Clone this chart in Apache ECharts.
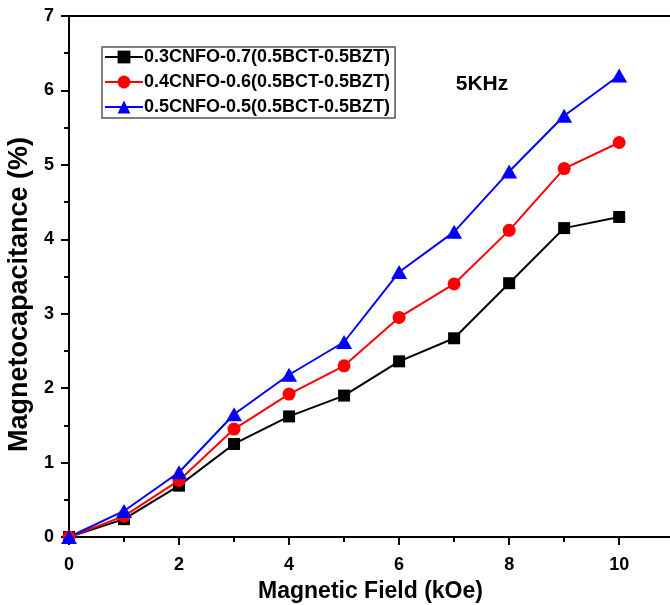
<!DOCTYPE html>
<html><head><meta charset="utf-8">
<script src="https://cdn.jsdelivr.net/npm/echarts@6/dist/echarts.min.js"></script>
<style>html,body{margin:0;padding:0;background:#fff}#c{width:670px;height:605px}</style>
</head><body><div id="c"></div>
<script>
var fieldKOe = [0,1,2,3,4,5,6,7,8,9,10];
var seriesNames = ['0.3CNFO-0.7(0.5BCT-0.5BZT)','0.4CNFO-0.6(0.5BCT-0.5BZT)','0.5CNFO-0.5(0.5BCT-0.5BZT)'];
var mc03 = [0,0.24,0.69,1.25,1.62,1.90,2.36,2.67,3.41,4.15,4.30];
var mc04 = [0,0.28,0.76,1.45,1.92,2.30,2.95,3.40,4.12,4.95,5.30];
var mc05 = [0,0.35,0.87,1.65,2.18,2.62,3.56,4.10,4.91,5.66,6.20];
var yTicks = [0,1,2,3,4,5,6,7];
var xTicks = [0,2,4,6,8,10];

function pairs(v){return fieldKOe.map(function(x,i){return [x,v[i]];});}
var F = 'Liberation Sans, Arial, sans-serif';
var chart = echarts.init(document.getElementById('c'));
function mk(name, data, color, symbol, size){
  return {name:name,type:'line',data:pairs(data),symbol:symbol,symbolSize:size,
    lineStyle:{color:color,width:2},itemStyle:{color:color},color:color,animation:false};
}
chart.setOption({
  animation:false,
  grid:{left:69,top:16,right:-2,bottom:68,outerBoundsMode:'none',containLabel:false,
    show:true,borderColor:'#000',borderWidth:2,backgroundColor:'transparent'},
  xAxis:{type:'value',min:0,max:10.96,interval:2,
    name:'Magnetic Field (kOe)',nameLocation:'middle',nameGap:43,
    nameTextStyle:{fontFamily:F,fontWeight:'bold',fontSize:23,color:'#000'},
    axisLine:{show:true,lineStyle:{color:'#000',width:2}},
    axisTick:{show:true,length:8,lineStyle:{color:'#000',width:2}},
    minorTick:{show:true,splitNumber:2,length:5,lineStyle:{color:'#000',width:2}},
    splitLine:{show:false},
    axisLabel:{fontFamily:F,fontWeight:'bold',fontSize:18,color:'#000',margin:19,
      showMaxLabel:false,
      formatter:function(v){return xTicks.indexOf(v)>=0?String(v):'';}}
  },
  yAxis:{type:'value',min:0,max:7,interval:1,
    name:'Magnetocapacitance (%)',nameLocation:'middle',nameGap:31,
    nameTextStyle:{fontFamily:F,fontWeight:'bold',fontSize:27,color:'#000',padding:[0,36,0,0]},
    axisLine:{show:true,lineStyle:{color:'#000',width:2}},
    axisTick:{show:true,length:8,lineStyle:{color:'#000',width:2}},
    minorTick:{show:true,splitNumber:2,length:5,lineStyle:{color:'#000',width:2}},
    splitLine:{show:false},
    axisLabel:{fontFamily:F,fontWeight:'bold',fontSize:18,color:'#000',margin:15,
      formatter:function(v){return yTicks.indexOf(v)>=0?String(v):'';}}
  },
  legend:{orient:'vertical',left:102,top:47,itemWidth:38,itemHeight:16,itemGap:7,
    padding:[1,5,2,2],borderColor:'#555',borderWidth:1.5,
    textStyle:{fontFamily:F,fontWeight:'bold',fontSize:18,color:'#000',padding:[0,0,0,-4]},
    data:seriesNames},
  graphic:[{type:'text',x:482,y:84,style:{text:'5KHz',fontFamily:F,fontWeight:'bold',fontSize:21,fill:'#000',
    textAlign:'center',textVerticalAlign:'middle'}}],
  series:[
    mk(seriesNames[0],mc03,'#000000','rect',12),
    mk(seriesNames[1],mc04,'#ff0000','circle',13),
    mk(seriesNames[2],mc05,'#0000ff','triangle',[16,14])
  ]
});
</script></body></html>
